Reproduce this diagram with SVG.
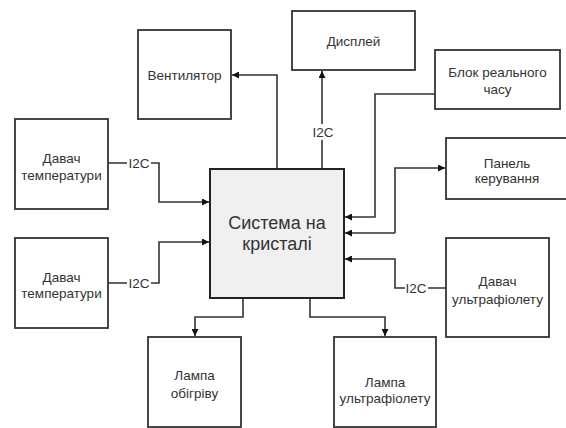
<svg xmlns="http://www.w3.org/2000/svg" width="566" height="428" viewBox="0 0 566 428">
<style>
.box{fill:#fff;stroke:#333;stroke-width:1.8}
.main{fill:#f0f0f0;stroke:#222;stroke-width:2}
.t{font-family:"Liberation Sans",Arial,sans-serif;font-size:13.5px;fill:#333;text-anchor:middle;dominant-baseline:central}
.tm{font-family:"Liberation Sans",Arial,sans-serif;font-size:18px;fill:#333;text-anchor:middle;dominant-baseline:central}
.lbl{font-family:"Liberation Sans",Arial,sans-serif;font-size:13.5px;fill:#333;text-anchor:middle;dominant-baseline:central}
.c{fill:none;stroke:#333;stroke-width:1.6}
</style>
<defs>
<marker id="a" viewBox="0 0 10 10" refX="10" refY="5" markerWidth="7" markerHeight="7" orient="auto" markerUnits="userSpaceOnUse">
<path d="M0,0 L10,5 L0,10 z" fill="#111"/>
</marker>
</defs>
<g id="connectors">
<path class="c" d="M277,169 V75 H232" marker-end="url(#a)"/>
<path class="c" d="M322,169 V71" marker-end="url(#a)"/>
<path class="c" d="M435,94 H375 V217 H345" marker-end="url(#a)"/>
<path class="c" d="M395,233 V168 H445" marker-end="url(#a)"/>
<path class="c" d="M395,233 H345" marker-end="url(#a)"/>
<path class="c" d="M446,288 H428 M405,288 H395 V259 H345" marker-end="url(#a)"/>
<path class="c" d="M108,163 H127 M151,163 H159 V202 H209" marker-end="url(#a)"/>
<path class="c" d="M108,283 H127 M151,283 H159 V242 H209" marker-end="url(#a)"/>
<path class="c" d="M243,298 V317 H195 V336" marker-end="url(#a)"/>
<path class="c" d="M310,298 V317 H385 V336" marker-end="url(#a)"/>
<rect x="311" y="124" width="24" height="16" fill="#fff"/>
<text class="lbl" x="323" y="132">I2C</text>
<text class="lbl" x="139" y="163">I2C</text>
<text class="lbl" x="139" y="283">I2C</text>
<text class="lbl" x="416" y="288">I2C</text>
</g>
<g id="soc"><rect class="main" x="210" y="169" width="134" height="129"/><text class="tm" x="277" y="223">Система на</text><text class="tm" x="277" y="244">кристалі</text></g>
<g id="fan"><rect class="box" x="138" y="30" width="93" height="89"/><text class="t" x="184.5" y="75">Вентилятор</text></g>
<g id="display"><rect class="box" x="292" y="11" width="123" height="59"/><text class="t" x="353.5" y="41">Дисплей</text></g>
<g id="rtc"><rect class="box" x="435" y="50" width="125" height="59"/><text class="t" x="497.5" y="72">Блок реального</text><text class="t" x="497.5" y="89">часу</text></g>
<g id="panel"><rect class="box" x="446" y="138" width="122" height="61"/><text class="t" x="507" y="163">Панель</text><text class="t" x="507" y="178">керування</text></g>
<g id="temp1"><rect class="box" x="15" y="119" width="93" height="90"/><text class="t" x="61.5" y="158">Давач</text><text class="t" x="61.5" y="175">температури</text></g>
<g id="temp2"><rect class="box" x="15" y="238" width="93" height="90"/><text class="t" x="61.5" y="277">Давач</text><text class="t" x="61.5" y="293">температури</text></g>
<g id="uvsensor"><rect class="box" x="446" y="238" width="103" height="99"/><text class="t" x="497.5" y="281">Давач</text><text class="t" x="497.5" y="299">ультрафіолету</text></g>
<g id="heatlamp"><rect class="box" x="148" y="337" width="93" height="90"/><text class="t" x="194.5" y="375">Лампа</text><text class="t" x="194.5" y="393">обігріву</text></g>
<g id="uvlamp"><rect class="box" x="334" y="337" width="102" height="90"/><text class="t" x="385" y="382">Лампа</text><text class="t" x="385" y="398">ультрафіолету</text></g>
</svg>
